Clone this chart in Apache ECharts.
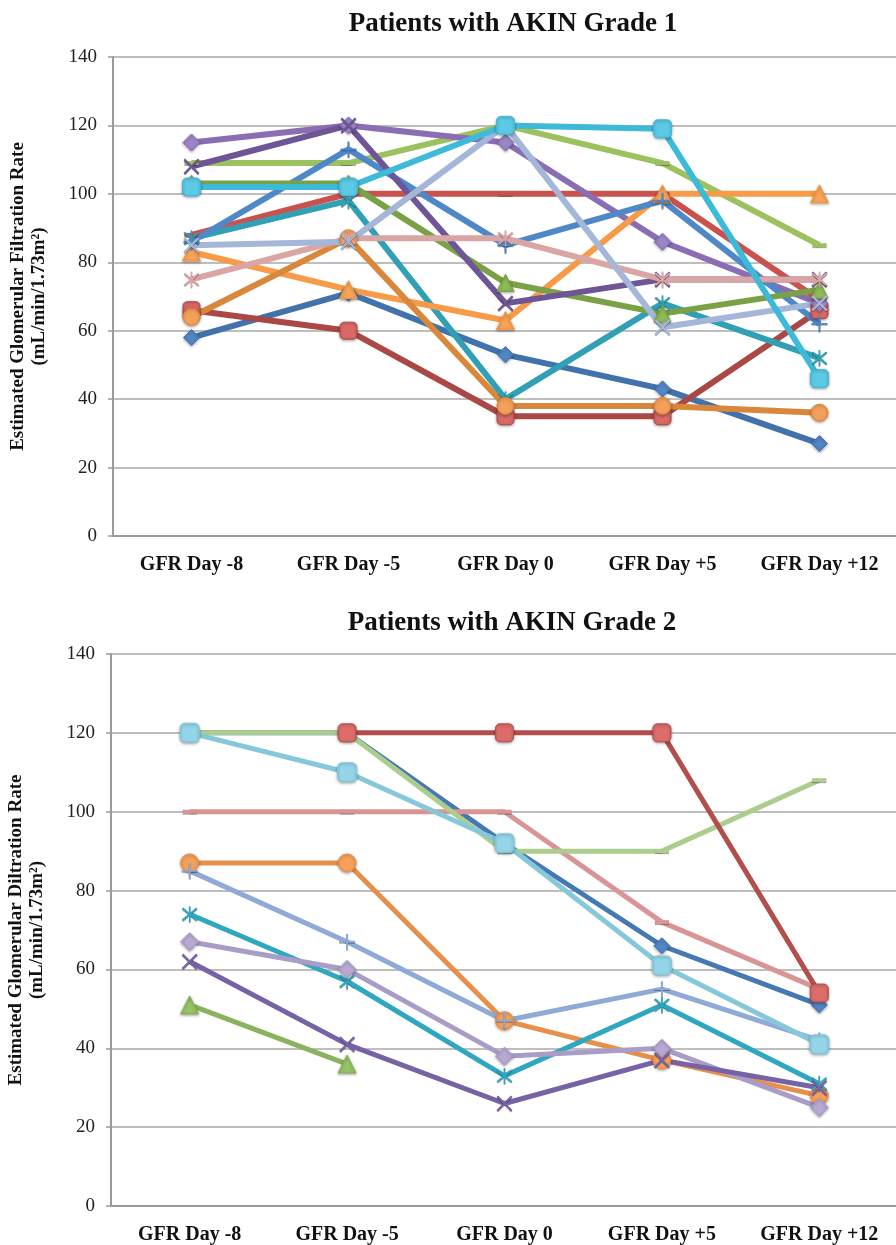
<!DOCTYPE html>
<html>
<head>
<meta charset="utf-8">
<script src="https://cdn.jsdelivr.net/npm/echarts@6/dist/echarts.min.js"></script>
<style>
html, body { margin: 0; padding: 0; background: #fff; }
#main { width: 896px; height: 1245px; }
</style>
</head>
<body>
<div id="main"></div>
<script>
// categories
var days = ['GFR Day -8', 'GFR Day -5', 'GFR Day 0', 'GFR Day +5', 'GFR Day +12'];

// AKIN grade 1 patients
var g1BlueDiamond    = [58, 71, 53, 43, 27];
var g1BluePlus       = [86, 113, 85, 98, 62];
var g1RedSquare      = [66, 60, 35, 35, 66];
var g1RedDash        = [88, 100, 100, 100, 69];
var g1GreenDash      = [109, 109, 120, 109, 85];
var g1GreenTriangle  = [103, 103, 74, 65, 72];
var g1PurpleDiamond  = [115, 120, 115, 86, 68];
var g1PurpleX        = [108, 120, 68, 75, 75];
var g1TealStar       = [87, 98, 40, 68, 52];
var g1AquaSquare     = [102, 102, 120, 119, 46];
var g1OrangeTriangle = [83, 72, 63, 100, 100];
var g1OrangeCircle   = [64, 87, 38, 38, 36];
var g1LightBlueX     = [85, 86, 120, 61, 68];
var g1PinkStar       = [75, 87, 87, 75, 75];

// AKIN grade 2 patients
var g2BlueDiamond    = [120, 120, 92, 66, 51];
var g2RedSquare      = [null, 120, 120, 120, 54];
var g2GreenDash      = [120, 120, 90, 90, 108];
var g2AquaSquare     = [120, 110, 92, 61, 41];
var g2PinkDash       = [100, 100, 100, 72, 55];
var g2OrangeCircle   = [87, 87, 47, 37, 28];
var g2LightBluePlus  = [85, 67, 47, 55, 42];
var g2TealX          = [74, 57, 33, 51, 31];
var g2LilacDiamond   = [67, 60, 38, 40, 25];
var g2PurpleX        = [62, 41, 26, 37, 30];
var g2GreenTriangle  = [51, 36, null, null, null];

// marker shapes
var SYM_X = 'path://M0,1L1,0L5,4L9,0L10,1L6,5L10,9L9,10L5,6L1,10L0,9L4,5Z';
var SYM_STAR = 'path://M0,1L1,0L5,4L9,0L10,1L6,5L10,9L9,10L5,6L1,10L0,9L4,5Z M4.5,-1L5.5,-1L5.5,11L4.5,11Z';
var SYM_PLUS = 'path://M4.4,0L5.6,0L5.6,4.4L10,4.4L10,5.6L5.6,5.6L5.6,10L4.4,10L4.4,5.6L0,5.6L0,4.4L4.4,4.4Z';
var SYM_DASH = 'rect';

var serif = '"Liberation Serif", "Times New Roman", serif';

function mk(name, data, idx, color, markColor, symbol, size, width) {
    var solid = symbol !== SYM_X && symbol !== SYM_STAR && symbol !== SYM_PLUS && symbol !== SYM_DASH;
    return {
        name: name,
        type: 'line',
        xAxisIndex: idx,
        yAxisIndex: idx,
        data: data,
        symbol: symbol,
        symbolSize: size,
        showAllSymbol: true,
        connectNulls: false,
        lineStyle: { color: color, width: width },
        itemStyle: {
            color: markColor,
            borderColor: solid ? color : markColor,
            borderWidth: solid ? 1 : 0,
            shadowBlur: solid ? 3 : 0,
            shadowColor: 'rgba(0,0,0,0.35)',
            shadowOffsetY: 1
        },
        emphasis: { disabled: true },
        animation: false
    };
}

function yAxis(idx, name) {
    return {
        gridIndex: idx,
        type: 'value',
        min: 0,
        max: 140,
        interval: 20,
        name: name,
        nameLocation: 'middle',
        nameRotate: 90,
        nameGap: 63,
        nameTextStyle: { fontFamily: serif, fontWeight: 'bold', fontSize: 19, color: '#111', lineHeight: 21 },
        axisLine: { show: true, lineStyle: { color: '#9a9a9a', width: 2 } },
        axisTick: { show: true, length: 5, lineStyle: { color: '#9a9a9a', width: 1.5 } },
        axisLabel: { fontFamily: serif, fontSize: 19, color: '#222', margin: 16 },
        splitLine: { show: true, lineStyle: { color: '#a9a9a9', width: 1.5 } }
    };
}

function xAxis(idx) {
    return {
        gridIndex: idx,
        type: 'category',
        data: days,
        boundaryGap: true,
        axisLine: { show: true, lineStyle: { color: '#9a9a9a', width: 2 } },
        axisTick: { show: false },
        axisLabel: { fontFamily: serif, fontWeight: 'bold', fontSize: 20, color: '#111', margin: 19 }
    };
}

var chart = echarts.init(document.getElementById('main'), null, { renderer: 'canvas' });

chart.setOption({
    backgroundColor: '#fff',
    title: [
        { text: 'Patients with AKIN Grade 1', left: 508, top: 6, textAlign: 'center',
          textStyle: { fontFamily: serif, fontWeight: 'bold', fontSize: 27, color: '#111' } },
        { text: 'Patients with AKIN Grade 2', left: 507, top: 605, textAlign: 'center',
          textStyle: { fontFamily: serif, fontWeight: 'bold', fontSize: 27, color: '#111' } }
    ],
    grid: [
        { left: 113, top: 57, width: 785, height: 479, containLabel: false, outerBoundsMode: 'none' },
        { left: 111, top: 654, width: 787, height: 552, containLabel: false, outerBoundsMode: 'none' }
    ],
    xAxis: [xAxis(0), xAxis(1)],
    yAxis: [
        yAxis(0, 'Estimated Glomerular Filtration Rate\n(mL/min/1.73m\u00b2)'),
        yAxis(1, 'Estimated Glomerular Diltration Rate\n(mL/min/1.73m\u00b2)')
    ],
    series: [
        // grade 1
        mk('P1', g1BlueDiamond,    0, '#4272AC', '#5286C6', 'diamond', 16, 6),
        mk('P2', g1RedSquare,      0, '#AA4845', '#D96866', 'roundRect', 17, 6),
        mk('P3', g1RedDash,        0, '#C9524F', '#C9524F', SYM_DASH, [14, 4], 6),
        mk('P4', g1GreenDash,      0, '#9BC25E', '#9BC25E', SYM_DASH, [14, 4], 6),
        mk('P5', g1PurpleDiamond,  0, '#8A6DB3', '#9C86C7', 'diamond', 17, 6),
        mk('P6', g1TealStar,       0, '#31A0B4', '#31A0B4', SYM_STAR, 16, 6),
        mk('P7', g1OrangeTriangle, 0, '#F79B48', '#F9A457', 'triangle', 18, 6),
        mk('P8', g1BluePlus,       0, '#4F88C8', '#4F88C8', SYM_PLUS, 16, 6),
        mk('P9', g1OrangeCircle,   0, '#D9873A', '#F5A05A', 'circle', 17, 6),
        mk('P10', g1GreenTriangle, 0, '#7AA145', '#8EBB57', 'triangle', 17, 6),
        mk('P11', g1PurpleX,       0, '#6E5596', '#6E5596', SYM_X, 16, 6),
        mk('P12', g1PinkStar,      0, '#DAA5A5', '#DAA5A5', SYM_STAR, 16, 6),
        mk('P13', g1LightBlueX,    0, '#A5B7D8', '#A5B7D8', SYM_X, 16, 6),
        mk('P14', g1AquaSquare,    0, '#3EBAD9', '#5CC9E5', 'roundRect', 18, 6),
        // grade 2
        mk('Q1', g2BlueDiamond,    1, '#4678B3', '#5286C6', 'diamond', 16, 5),
        mk('Q2', g2PinkDash,       1, '#D99595', '#D99595', SYM_DASH, [14, 4], 5),
        mk('Q3', g2GreenDash,      1, '#ADCD8E', '#ADCD8E', SYM_DASH, [14, 4], 5),
        mk('Q4', g2RedSquare,      1, '#B24E4B', '#DC6D6A', 'roundRect', 18, 5),
        mk('Q5', g2OrangeCircle,   1, '#E8904B', '#F5A05A', 'circle', 18, 5),
        mk('Q6', g2LightBluePlus,  1, '#8FAAD6', '#8FAAD6', SYM_PLUS, 16, 5),
        mk('Q7', g2TealX,          1, '#2FA7BF', '#2FA7BF', SYM_STAR, 16, 5),
        mk('Q8', g2LilacDiamond,   1, '#A99CC6', '#B7A9D3', 'diamond', 18, 5),
        mk('Q9', g2PurpleX,        1, '#7762A5', '#7762A5', SYM_X, 16, 5),
        mk('Q10', g2GreenTriangle, 1, '#8AB35E', '#96C466', 'triangle', 18, 5),
        mk('Q11', g2AquaSquare,    1, '#86C8DA', '#94D5EA', 'roundRect', 19, 5)
    ]
});
</script>
</body>
</html>
